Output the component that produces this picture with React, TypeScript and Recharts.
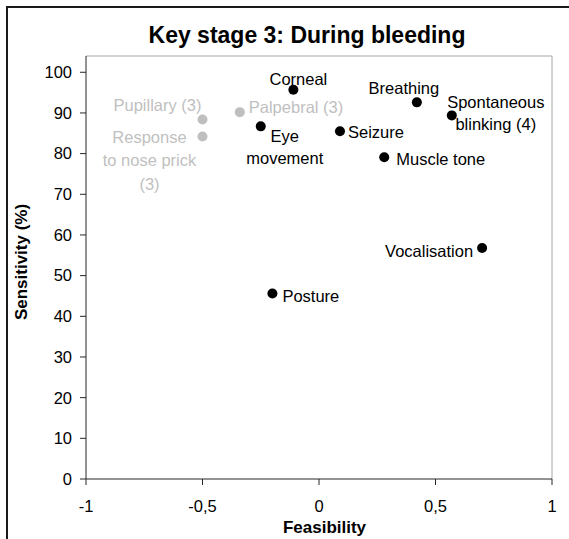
import React from 'react';
import {
  ScatterChart,
  Scatter,
  XAxis,
  YAxis,
  ReferenceLine,
  Label
} from 'recharts';

// measures that were assessed in this key stage
const mainNames = [
  'Corneal',
  'Breathing',
  'Spontaneous blinking (4)',
  'Eye movement',
  'Seizure',
  'Muscle tone',
  'Vocalisation',
  'Posture'
];
const mainFeasibility = [-0.11, 0.42, 0.57, -0.25, 0.09, 0.28, 0.7, -0.2];
const mainSensitivity = [95.7, 92.6, 89.4, 86.7, 85.5, 79.1, 56.8, 45.6];

// measures with few observations (shown in grey)
const greyNames = ['Pupillary (3)', 'Palpebral (3)', 'Response to nose prick (3)'];
const greyFeasibility = [-0.5, -0.34, -0.5];
const greySensitivity = [88.4, 90.2, 84.2];

const xTicks = [-1, -0.5, 0, 0.5, 1];
const yTicks = [0, 10, 20, 30, 40, 50, 60, 70, 80, 90, 100];

const FONT = '"Liberation Sans", Arial, sans-serif';
const LABEL_SIZE = 16.5;

// where each point's label goes relative to its dot
const labelLayout: Record<string, { lines: string[]; anchor: 'start' | 'middle' | 'end'; dx: number; dy: number; gap?: number }> = {
  Corneal: { lines: ['Corneal'], anchor: 'middle', dx: 5, dy: -11 },
  Breathing: { lines: ['Breathing'], anchor: 'middle', dx: -13, dy: -14 },
  'Spontaneous blinking (4)': { lines: ['Spontaneous', 'blinking (4)'], anchor: 'middle', dx: 44, dy: -13, gap: 22 },
  'Eye movement': { lines: ['Eye', 'movement'], anchor: 'middle', dx: 24, dy: 10, gap: 22 },
  Seizure: { lines: ['Seizure'], anchor: 'start', dx: 8, dy: 1 },
  'Muscle tone': { lines: ['Muscle tone'], anchor: 'start', dx: 12, dy: 1.5 },
  Vocalisation: { lines: ['Vocalisation'], anchor: 'end', dx: -9, dy: 3 },
  Posture: { lines: ['Posture'], anchor: 'start', dx: 10, dy: 2.5 },
  'Pupillary (3)': { lines: ['Pupillary (3)'], anchor: 'end', dx: -1, dy: -14 },
  'Palpebral (3)': { lines: ['Palpebral (3)'], anchor: 'start', dx: 9, dy: -5 },
  'Response to nose prick (3)': { lines: ['Response', 'to nose prick', '(3)'], anchor: 'middle', dx: -53, dy: 0.5, gap: 23.3 }
};

const mainData = mainNames.map((name, i) => ({ name, x: mainFeasibility[i], y: mainSensitivity[i] }));
const greyData = greyNames.map((name, i) => ({ name, x: greyFeasibility[i], y: greySensitivity[i] }));

const makeShape = (fill: string) => (props: any) => {
  const { cx, cy, payload } = props;
  const lay = labelLayout[payload.name];
  return (
    <g>
      <circle cx={cx} cy={cy} r={5} fill={fill} />
      {lay && (
        <text textAnchor={lay.anchor} fontSize={LABEL_SIZE} fill={fill} fontFamily={FONT}>
          {lay.lines.map((line, i) => (
            <tspan key={i} x={cx + lay.dx} y={cy + lay.dy + i * (lay.gap || 0) + LABEL_SIZE * 0.36}>
              {line}
            </tspan>
          ))}
        </text>
      )}
    </g>
  );
};

const tickStyle = { fontSize: LABEL_SIZE, fill: '#000', fontFamily: FONT };

const App = () => {
  return (
    <div style={{ position: 'absolute', left: 0, top: 0, width: 569, height: 539, overflow: 'hidden', background: '#fff' }}>
      <div
        style={{
          position: 'absolute',
          left: 6,
          top: 6,
          width: 700,
          height: 700,
          borderLeft: '2px solid #1a1a1a',
          borderTop: '2px solid #1a1a1a'
        }}
      />
      <div
        style={{
          position: 'absolute',
          left: 0,
          top: 23.5,
          width: 614,
          textAlign: 'center',
          fontFamily: FONT,
          fontWeight: 'bold',
          fontSize: 23,
          lineHeight: '23px',
          color: '#000'
        }}
      >
        Key stage 3: During bleeding
      </div>
      <div style={{ position: 'absolute', left: 0, top: 0 }}>
        <ScatterChart width={569} height={539} margin={{ top: 56, right: 17, bottom: 0, left: 0 }}>
          <ReferenceLine y={104} stroke="#a6a6a6" />
          <ReferenceLine x={1} stroke="#a6a6a6" />
          <XAxis
            type="number"
            dataKey="x"
            domain={[-1, 1]}
            ticks={xTicks}
            tickFormatter={(v: number) => String(v).replace('.', ',')}
            tick={tickStyle}
            tickSize={6}
            tickMargin={15}
            height={60}
            axisLine={{ stroke: '#262626' }}
            tickLine={{ stroke: '#262626' }}
          >
            <Label
              content={() => (
                <text x={324.5} y={533} textAnchor="middle" fontSize={17} fontWeight="bold" fontFamily={FONT} fill="#000">
                  Feasibility
                </text>
              )}
            />
          </XAxis>
          <YAxis
            type="number"
            dataKey="y"
            domain={[0, 104]}
            ticks={yTicks}
            tick={tickStyle}
            tickSize={6}
            tickMargin={8}
            width={86}
            axisLine={{ stroke: '#262626' }}
            tickLine={{ stroke: '#262626' }}
          >
            <Label
              content={() => (
                <text
                  x={27}
                  y={262}
                  transform="rotate(-90 27 262)"
                  textAnchor="middle"
                  fontSize={17}
                  fontWeight="bold"
                  fontFamily={FONT}
                  fill="#000"
                >
                  Sensitivity (%)
                </text>
              )}
            />
          </YAxis>
          <Scatter data={greyData} shape={makeShape('#bfbfbf')} isAnimationActive={false} />
          <Scatter data={mainData} shape={makeShape('#000')} isAnimationActive={false} />
        </ScatterChart>
      </div>
    </div>
  );
};

export default App;
